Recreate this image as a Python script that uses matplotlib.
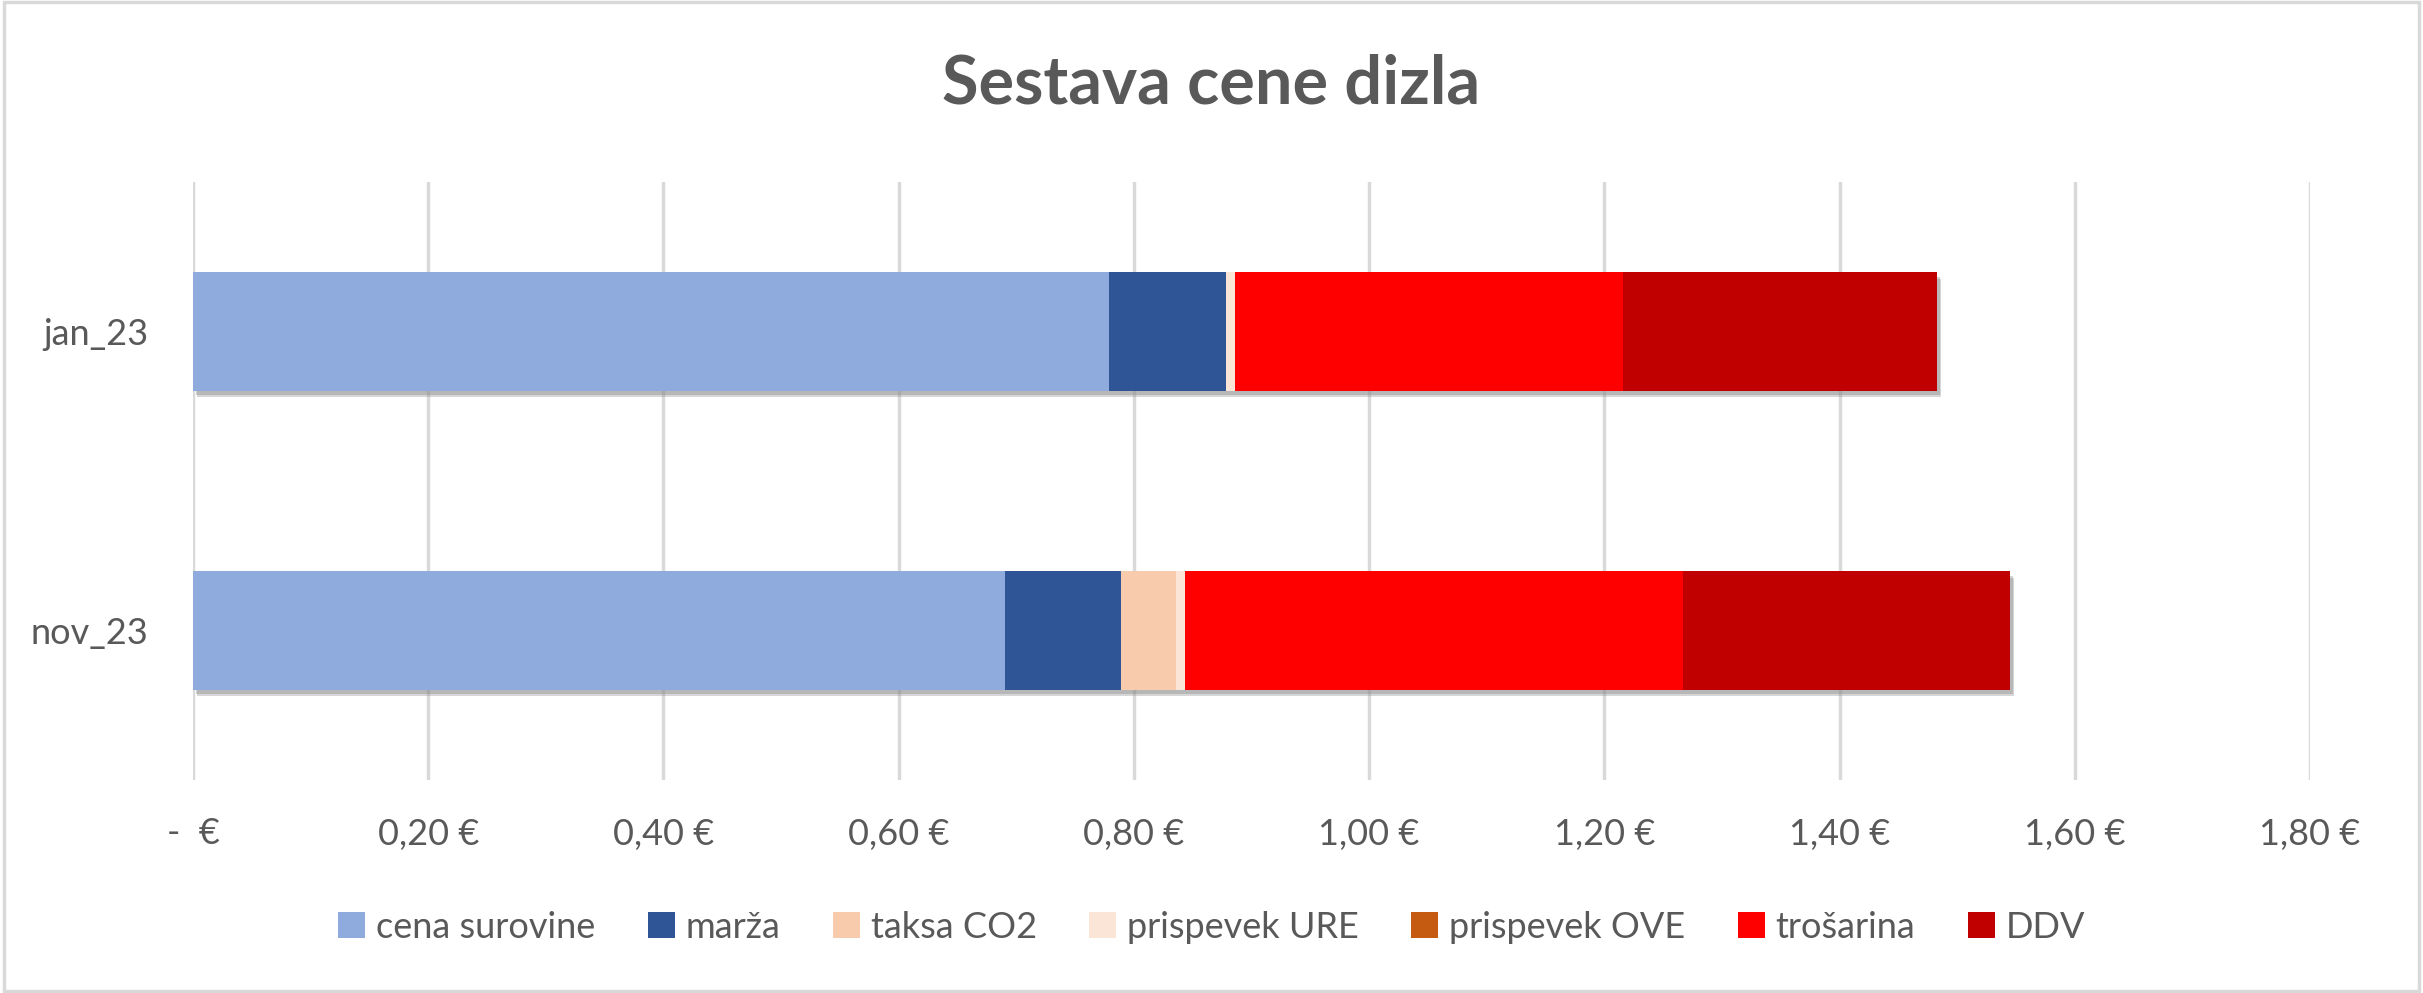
import matplotlib
matplotlib.use("Agg")
import matplotlib.pyplot as plt
import matplotlib.patheffects as pe
from matplotlib.patches import Rectangle, Patch
import numpy as np

plt.rcParams['font.family'] = ['Lato', 'DejaVu Sans']

categories = ["jan_23", "nov_23"]
series_names = ["cena surovine", "marža", "taksa CO2", "prispevek URE",
                "prispevek OVE", "trošarina", "DDV"]
cena_surovine = [0.779, 0.690]
marza = [0.099, 0.099]
taksa_co2 = [0.0, 0.047]
prispevek_ure = [0.0077, 0.0077]
prispevek_ove = [0.0, 0.0]
trosarina = [0.330, 0.423]
ddv = [0.267, 0.278]
series_values = [cena_surovine, marza, taksa_co2, prispevek_ure,
                 prispevek_ove, trosarina, ddv]
colors = ["#8FAADC", "#2F5597", "#F8CBAD", "#FBE5D6", "#C55A11", "#FF0000", "#C00000"]
x_ticks = [0.0, 0.2, 0.4, 0.6, 0.8, 1.0, 1.2, 1.4, 1.6, 1.8]
x_tick_labels = ["-  €", "0,20 €", "0,40 €", "0,60 €", "0,80 €", "1,00 €",
                 "1,20 €", "1,40 €", "1,60 €", "1,80 €"]

W, H = 2423, 993
fig = plt.figure(figsize=(W / 100, H / 100), dpi=100)
fig.patch.set_facecolor("white")
fig.patches.append(Rectangle((0.0015, 0.002), 0.997, 0.996, transform=fig.transFigure,
                             fill=False, edgecolor="#D9D9D9", linewidth=2.5))

ax = fig.add_axes([193 / W, 1 - 780 / H, (2310 - 193) / W, (780 - 182) / H])
ypos = np.arange(len(categories))
left = np.zeros(len(categories))
shadow = [pe.SimplePatchShadow(offset=(3, -5), shadow_rgbFace="#8C8C8C", alpha=0.35),
          pe.SimplePatchShadow(offset=(2, -3), shadow_rgbFace="#7F7F7F", alpha=0.35),
          pe.Normal()]
for name, vals, col in zip(series_names, series_values, colors):
    bars = ax.barh(ypos, vals, left=left, height=0.395, color=col,
                   zorder=3, linewidth=0)
    for b in bars:
        if b.get_width() > 0:
            b.set_path_effects(shadow)
    left = left + np.array(vals)

ax.set_xlim(0, 1.8)
ax.set_ylim(1.5, -0.5)
ax.set_xticks(x_ticks)
ax.set_xticklabels(x_tick_labels)
ax.set_yticks(ypos)
ax.set_yticklabels(categories)
ax.grid(axis="x", color="#D9D9D9", linewidth=2.5, zorder=0)
for s in ax.spines.values():
    s.set_visible(False)
ax.tick_params(axis="both", length=0, labelsize=26, labelcolor="#595959")
ax.tick_params(axis="x", pad=27)
ax.tick_params(axis="y", pad=32)

fig.text(0.5, 1 - 85 / H, "Sestava cene dizla", ha="center", va="center",
         fontsize=48, fontweight="bold", color="#595959")

handles = [Patch(facecolor=c, edgecolor="none", label=n) for n, c in zip(series_names, colors)]
fig.legend(handles=handles, loc="center", bbox_to_anchor=(0.5, 1 - 927 / H), ncol=7,
           frameon=False, fontsize=26, labelcolor="#595959", handlelength=0.75,
           handleheight=0.75, handletextpad=0.3, columnspacing=1.45)

fig.savefig("out.png", dpi=100)
